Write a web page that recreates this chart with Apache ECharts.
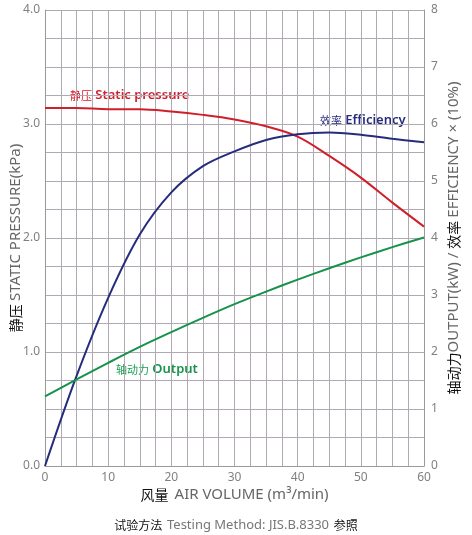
<!DOCTYPE html>
<html>
<head>
<meta charset="utf-8">
<script src="https://cdn.jsdelivr.net/npm/echarts@6/dist/echarts.min.js"></script>
<style>
  html, body { margin: 0; padding: 0; background: #fff; }
  #chart { width: 472px; height: 535px; }
</style>
</head>
<body>
<div id="chart"></div>
<script>
var airVolume = [0, 5, 10, 15, 20, 25, 30, 35, 40, 45, 50, 55, 60];
var staticPressure = [3.14, 3.14, 3.13, 3.13, 3.11, 3.08, 3.04, 2.98, 2.89, 2.72, 2.53, 2.31, 2.10];
var efficiency = [0, 1.58, 2.95, 4.06, 4.8, 5.26, 5.52, 5.72, 5.82, 5.85, 5.81, 5.74, 5.68];
var output = [1.22, 1.52, 1.81, 2.09, 2.35, 2.6, 2.84, 3.06, 3.27, 3.47, 3.66, 3.84, 4.01];

var xTicks = [0, 10, 20, 30, 40, 50, 60];
var pressureTicks = ['0.0', '1.0', '2.0', '3.0', '4.0'];
var rightTicks = [0, 1, 2, 3, 4, 5, 6, 7, 8];

function pairs(ys) {
    return airVolume.map(function (x, i) { return [x, ys[i]]; });
}

var chartDom = document.getElementById('chart');
var myChart = echarts.init(chartDom);
var font = '"Noto Sans", "Noto Sans CJK JP", sans-serif';
var cjk = '"Noto Sans CJK JP", sans-serif';
var gridColor = '#b0a8b2';
var tickColor = '#808080';

var option = {
    backgroundColor: '#fff',
    animation: false,
    textStyle: { fontFamily: font },
    grid: { left: 45, right: 48, top: 10, bottom: 69, outerBoundsMode: 'none', containLabel: false },
    title: {
        left: 'center',
        top: 511,
        text: '{c|试验方法} {g|Testing Method: JIS.B.8330} {c|参照}',
        textStyle: {
            fontWeight: 'normal',
            rich: {
                c: { fontFamily: cjk, fontSize: 12, fontWeight: 'normal', color: '#111' },
                g: { fontFamily: font, fontSize: 13, fontWeight: 'normal', color: '#777' }
            }
        }
    },
    xAxis: {
        type: 'value',
        min: xTicks[0],
        max: xTicks[xTicks.length - 1],
        interval: 10,
        name: '{c|风量}  {g|AIR VOLUME (m³/min)}',
        nameLocation: 'middle',
        nameGap: 21,
        nameMoveOverlap: false,
        nameTextStyle: {
            rich: {
                c: { fontFamily: cjk, fontSize: 14, color: '#111' },
                g: { fontFamily: font, fontSize: 15, color: '#666' }
            }
        },
        axisLine: { show: true, lineStyle: { color: '#999', width: 1 } },
        axisTick: { show: false },
        axisLabel: { color: tickColor, fontSize: 12, margin: 6 },
        splitLine: { show: true, lineStyle: { color: gridColor, width: 1 } },
        minorTick: { show: false, splitNumber: 4 },
        minorSplitLine: { show: true, lineStyle: { color: gridColor, width: 1 } }
    },
    yAxis: [{
        type: 'value',
        min: 0,
        max: 4,
        interval: 1,
        position: 'left',
        name: '{c|静压} {g|STATIC PRESSURE(kPa)}',
        nameLocation: 'middle',
        nameRotate: 90,
        nameGap: 22,
        nameMoveOverlap: false,
        nameTextStyle: {
            rich: {
                c: { fontFamily: cjk, fontSize: 14, color: '#111' },
                g: { fontFamily: font, fontSize: 15, color: '#666' }
            }
        },
        axisLine: { show: true, lineStyle: { color: '#999', width: 1 } },
        axisTick: { show: false },
        axisLabel: {
            color: tickColor, fontSize: 12, margin: 5,
            formatter: function (v) { return pressureTicks[Math.round(v)]; }
        },
        splitLine: { show: true, lineStyle: { color: gridColor, width: 1 } },
        minorTick: { show: false, splitNumber: 4 },
        minorSplitLine: { show: true, lineStyle: { color: gridColor, width: 1 } }
    }, {
        type: 'value',
        min: rightTicks[0],
        max: rightTicks[rightTicks.length - 1],
        interval: 1,
        position: 'right',
        name: '{c|轴动力}{g|OUTPUT(kW) / }{c|效率} {g|EFFICIENCY × (10%)}',
        nameLocation: 'middle',
        nameRotate: 90,
        nameGap: 22,
        nameMoveOverlap: false,
        nameTextStyle: {
            rich: {
                c: { fontFamily: cjk, fontSize: 14, color: '#111' },
                g: { fontFamily: font, fontSize: 15, color: '#666' }
            }
        },
        axisLine: { show: true, lineStyle: { color: '#999', width: 1 } },
        axisTick: { show: false },
        axisLabel: { color: tickColor, fontSize: 12, margin: 7 },
        splitLine: { show: false }
    }],
    series: [{
        name: '静压 Static pressure',
        type: 'line',
        yAxisIndex: 0,
        smooth: 0.35,
        symbol: 'none',
        lineStyle: { color: '#d01f2a', width: 2 },
        data: pairs(staticPressure)
    }, {
        name: '效率 Efficiency',
        type: 'line',
        yAxisIndex: 1,
        smooth: 0.35,
        symbol: 'none',
        lineStyle: { color: '#262c7c', width: 2 },
        data: pairs(efficiency)
    }, {
        name: '轴动力 Output',
        type: 'line',
        yAxisIndex: 1,
        smooth: 0.35,
        symbol: 'none',
        lineStyle: { color: '#16924a', width: 2 },
        data: pairs(output)
    }],
    graphic: [{
        type: 'text', left: 70, top: 89,
        style: {
            text: '{c|静压} {g|Static pressure}',
            rich: {
                c: { fontFamily: cjk, fontSize: 11, fill: '#e0101e' },
                g: { fontFamily: font, fontSize: 13, fontWeight: 600, fill: '#d01f2a' }
            }
        }
    }, {
        type: 'text', left: 320, top: 114,
        style: {
            text: '{c|效率} {g|Efficiency}',
            rich: {
                c: { fontFamily: cjk, fontSize: 11, fill: '#262c7c' },
                g: { fontFamily: font, fontSize: 13, fontWeight: 600, fill: '#262c7c' }
            }
        }
    }, {
        type: 'text', left: 116, top: 363,
        style: {
            text: '{c|轴动力} {g|Output}',
            rich: {
                c: { fontFamily: cjk, fontSize: 11, fill: '#1aa052' },
                g: { fontFamily: font, fontSize: 13, fontWeight: 600, fill: '#16924a' }
            }
        }
    }]
};
option && myChart.setOption(option);
</script>
</body>
</html>
